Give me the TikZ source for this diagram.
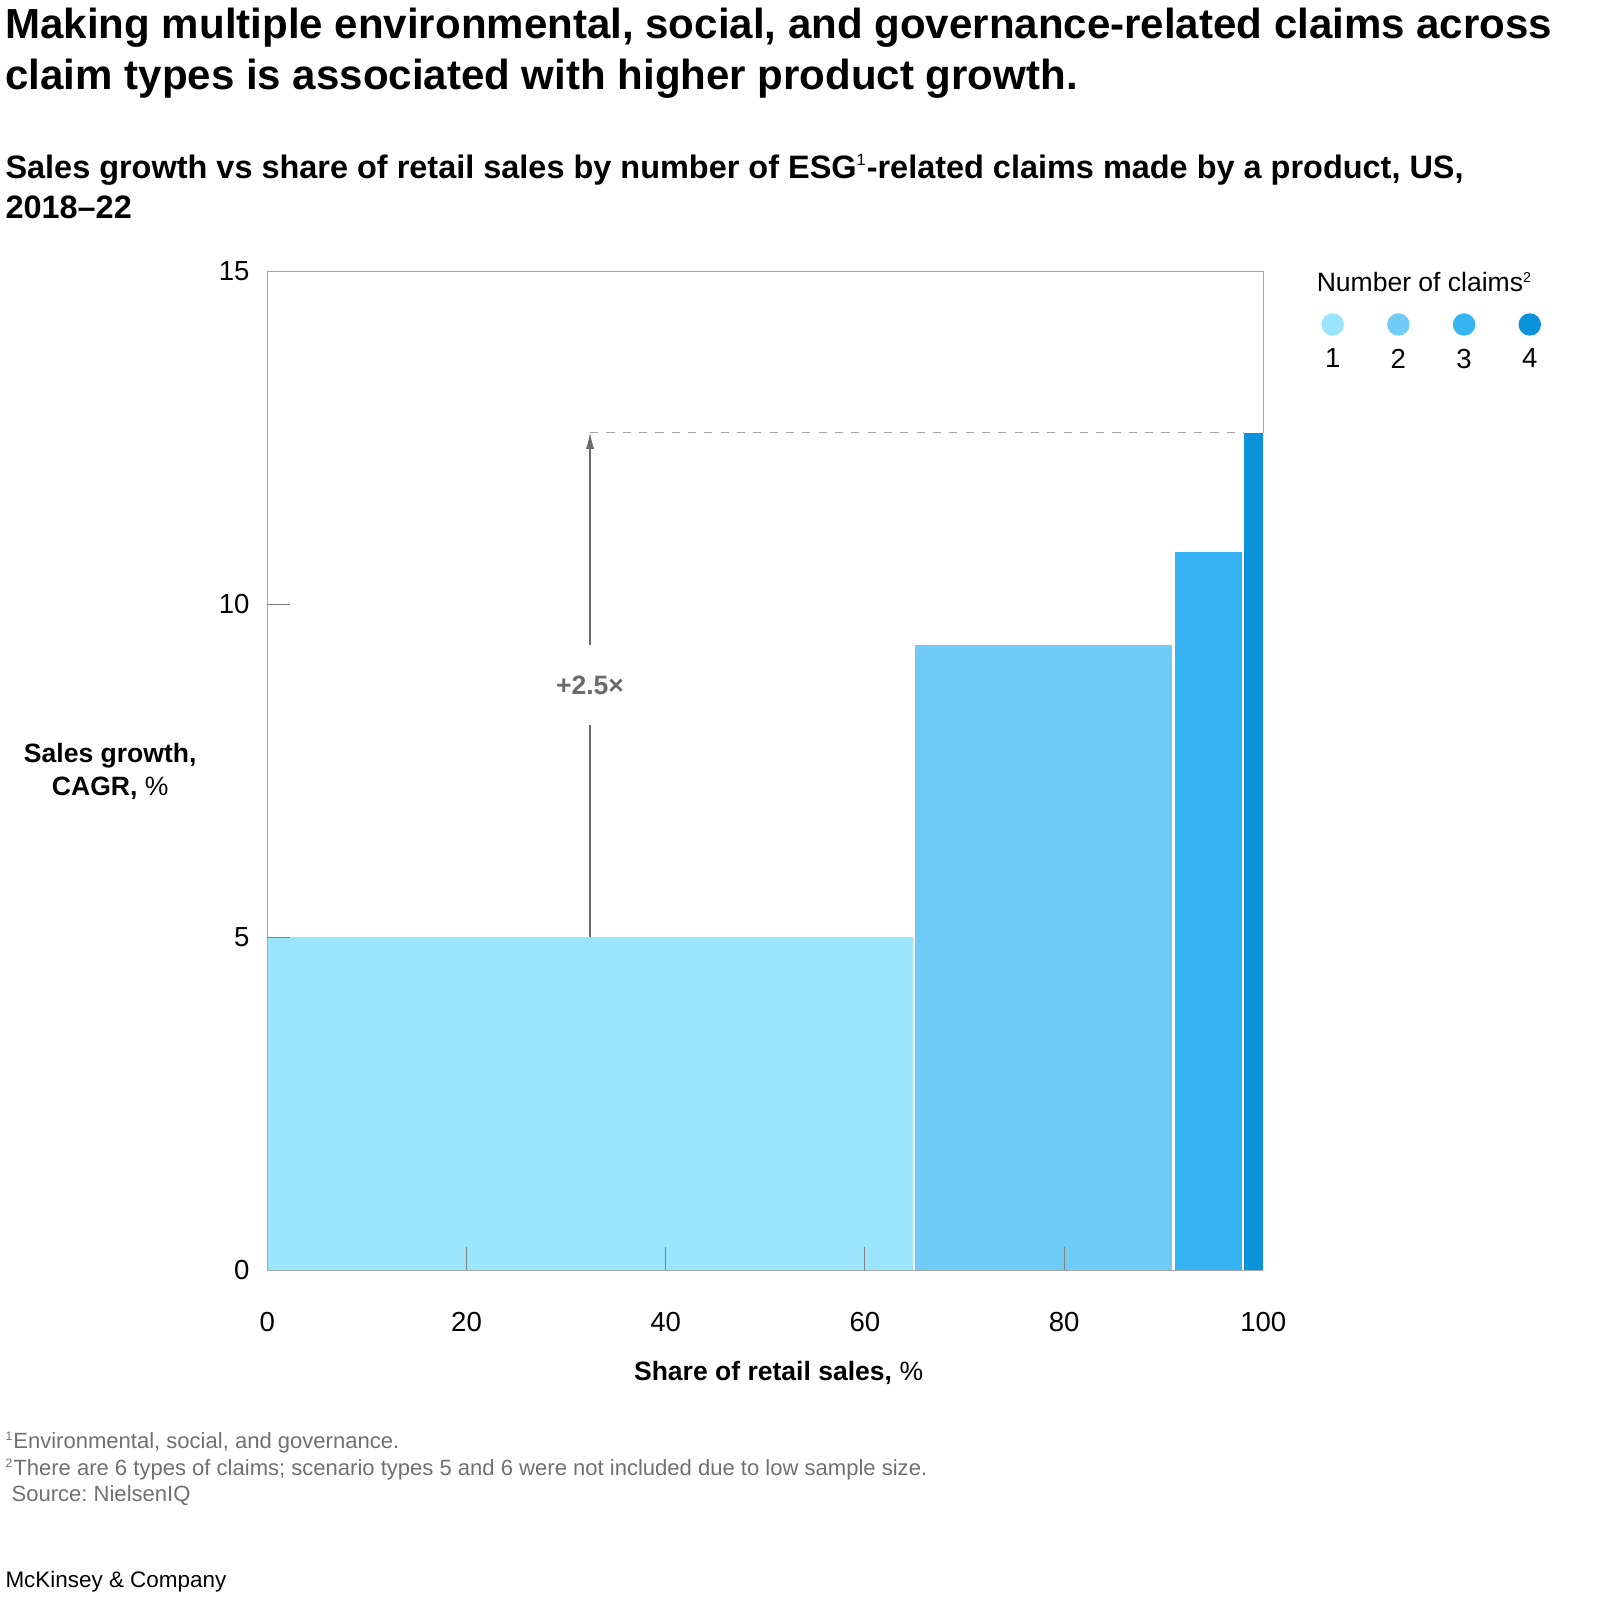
\documentclass[tikz,border=0pt]{standalone}
\usepackage{fontspec}
\setmainfont{Liberation Sans}
\usetikzlibrary{positioning,arrows.meta}
\definecolor{claimone}{HTML}{9BE5FC}
\definecolor{claimtwo}{HTML}{70CBF6}
\definecolor{claimthree}{HTML}{35B3F3}
\definecolor{claimfour}{HTML}{0A93DB}
\definecolor{axisgray}{HTML}{A6A6A6}
\definecolor{notegray}{HTML}{707070}
\definecolor{arrowgray}{HTML}{6A6A6A}
\newcommand{\supmark}[2][7]{\textsuperscript{\fontsize{#1}{#1}\selectfont #2}}
\tikzset{
  heading/.style={anchor=base west, inner sep=0pt, font=\fontsize{20.6}{24}\selectfont\bfseries},
  subheading/.style={anchor=base west, inner sep=0pt, font=\fontsize{15.9}{18}\selectfont\bfseries},
  axisline/.style={axisgray, line width=0.6pt},
  tickline/.style={gray, line width=0.5pt},
  ticklabel/.style={inner sep=1pt, font=\fontsize{13.5}{16}\selectfont},
  axistitle/.style={inner sep=1pt, font=\fontsize{13}{16}\selectfont},
  dot/.style={circle, minimum size=11pt, inner sep=0pt},
  growth/.style={arrowgray, line width=0.6pt, -{Latex[length=8pt,width=4pt]}},
  multiplier/.style={fill=white, text=arrowgray, inner xsep=2pt, inner ysep=15pt, font=\fontsize{13}{16}\selectfont\bfseries},
  guide/.style={axisgray, line width=0.6pt, dash pattern=on 4pt off 4pt},
  note/.style={anchor=west, inner sep=0pt, text=notegray, font=\fontsize{10.8}{12}\selectfont},
}

\begin{document}
\frenchspacing
\begin{tikzpicture}[x=0.5pt, y=-0.5pt]
\useasboundingbox (0,0) rectangle (1568,1568);

% headings
\node[heading] (title1) at (5,38) {Making multiple environmental, social, and governance-related claims across};
\node[heading] (title2) at (5,88) {claim types is associated with higher product growth.};
\node[subheading] (sub1) at (5,175) {Sales growth vs share of retail sales by number of ESG\supmark[8]{\mdseries 1}-related claims made by a product, US,};
\node[subheading] (sub2) at (5,214) {2018–22};

% chart, in data units
\begin{scope}[shift={(262,1245)}, x=4.88pt, y=32.635pt]
\draw[axisline] (0,15) -- (100,15) -- (100,12.58);
\fill[claimone] (0,0) rectangle (64.86,5);
\fill[claimtwo] (65.06,0) rectangle (90.88,9.39);
\fill[claimthree] (91.09,0) rectangle (97.85,10.79);
\fill[claimfour] (98.05,0) rectangle (100,12.58);
\draw[axisline] (0,15) -- (0,0) -- (100,0);
\foreach \x in {20,40,60,80} \draw[tickline] (\x,0) -- (\x,0.35);
\foreach \y in {5,10} \draw[tickline] (0,\y) -- (2.3,\y);
\foreach \x in {0,20,...,100} \node[ticklabel] (x\x) at (\x,-0.77) {\x};
\foreach \y in {0,5,10,15} \node[ticklabel, anchor=east] (y\y) at (-1.54,\y) {\y};
% +2.5x arrow
\coordinate (base) at (32.4,5);
\coordinate (peak) at (32.4,12.58);
\coordinate (edge) at (98.05,12.58);
\draw[guide] (peak) -- (edge);
\draw[growth] (base) -- node[multiplier] (mult) {+2.5×} (peak);
\end{scope}

% axis titles
\node[axistitle] (xtitle) at (763,1345) {\textbf{Share of retail sales,} \%};
\node[axistitle, align=center] (ytitle) at (108,756) {\textbf{Sales growth,}\\\textbf{CAGR,} \%};

% legend
\node[axistitle, anchor=west] (legend) at (1288,276) {Number of claims\supmark{2}};
\foreach \i/\c in {1/claimone,2/claimtwo,3/claimthree,4/claimfour} {
  \node[dot, fill=\c] (dot\i) at ({1306+64.4*(\i-1)},318) {};
  \node[ticklabel, below=5pt of dot\i] (num\i) {\i};
}

% notes
\node[note] (note1) at (5,1414) {\supmark[6]{1}Environmental, social, and governance.};
\node[note] (note2) at (5,1440) {\supmark[6]{2}There are 6 types of claims; scenario types 5 and 6 were not included due to low sample size.};
\node[note] (source) at (5,1466) {\hspace{3pt}Source: NielsenIQ};
\node[anchor=west, inner sep=0pt, font=\fontsize{11}{13}\selectfont] (brand) at (5,1550) {McKinsey \& Company};
\end{tikzpicture}
\end{document}
